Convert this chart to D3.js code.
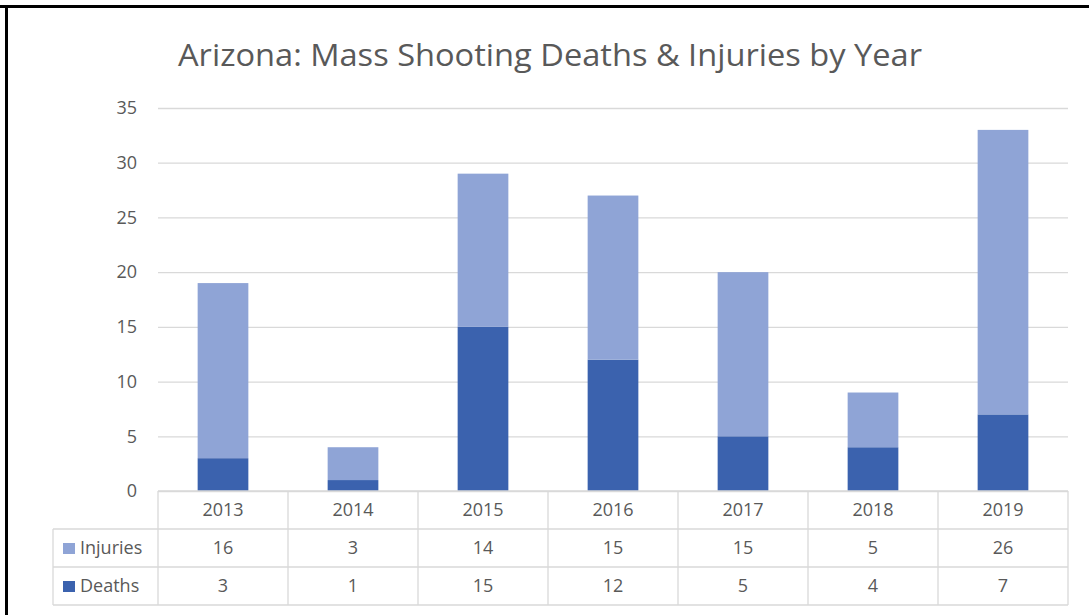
<!DOCTYPE html>
<html><head><meta charset="utf-8">
<script src="https://cdn.jsdelivr.net/npm/d3@7"></script>
<style>
html,body{margin:0;padding:0;background:#fff;}
svg{display:block;}
text{font-family:"Open Sans","Noto Sans",sans-serif;}
</style></head>
<body>
<svg id="c" width="1089" height="615"></svg>
<script>
const years = ["2013","2014","2015","2016","2017","2018","2019"];
const injuries = [16,3,14,15,15,5,26];
const deaths = [3,1,15,12,5,4,7];
const yTicks = [0,5,10,15,20,25,30,35];
const seriesNames = ["Injuries","Deaths"];
const title = "Arizona: Mass Shooting Deaths & Injuries by Year";

(function(){
const colInj = "#8FA4D6", colDea = "#3B62AE";
const textCol = "#595959", gridCol = "#D9D9D9";
const fs = 18;

const svg = d3.select("#c");
svg.append("rect").attr("x",0).attr("y",0).attr("width",1089).attr("height",615).attr("fill","#fff");
// black frame on top and left
svg.append("rect").attr("x",0).attr("y",5).attr("width",1089).attr("height",3).attr("fill","#000");
svg.append("rect").attr("x",5).attr("y",5).attr("width",3).attr("height",610).attr("fill","#000");

const pL = 158, pR = 1068, pT = 108, pB = 491;
const x = d3.scaleBand().domain(years).range([pL,pR]).paddingInner(0).paddingOuter(0);
const y = d3.scaleLinear().domain([0,35]).range([pB,pT]);

svg.append("text").attr("x",550).attr("y",66).attr("text-anchor","middle")
  .attr("font-size",31).attr("fill",textCol)
  .attr("textLength",744).attr("lengthAdjust","spacingAndGlyphs").text(title);

// grid
const yAxis = d3.axisLeft(y).tickValues(yTicks).tickSize(-(pR-pL)).tickPadding(21);
const ga = svg.append("g").attr("transform",`translate(${pL},0)`).call(yAxis);
ga.select(".domain").remove();
ga.selectAll(".tick line").attr("stroke",gridCol).attr("stroke-width",1.3);
ga.selectAll(".tick text").attr("font-size",fs).attr("fill",textCol).attr("font-family","'Open Sans','Noto Sans',sans-serif");

// stacked bars
const data = years.map((yr,i)=>({year:yr, Deaths:deaths[i], Injuries:injuries[i]}));
const stack = d3.stack().keys(["Deaths","Injuries"])(data);
const colors = {Deaths:colDea, Injuries:colInj};
const bw = x.bandwidth()*0.39;
stack.forEach(s=>{
  svg.append("g").selectAll("rect").data(s).join("rect")
    .attr("x",d=>x(d.data.year)+x.bandwidth()/2-bw/2)
    .attr("width",bw)
    .attr("y",d=>y(d[1]))
    .attr("height",d=>y(d[0])-y(d[1]))
    .attr("fill",colors[s.key]);
});

// data table
const rowH = 38;
const tLeft = 53;
const tb = svg.append("g");
const lineAttr = sel=>sel.attr("stroke",gridCol).attr("stroke-width",1.3);
lineAttr(tb.append("line").attr("x1",pL).attr("x2",pR).attr("y1",pB).attr("y2",pB));
[1,2,3].forEach(k=>{
  lineAttr(tb.append("line").attr("x1",tLeft).attr("x2",pR).attr("y1",pB+rowH*k).attr("y2",pB+rowH*k));
});
lineAttr(tb.append("line").attr("x1",tLeft).attr("x2",tLeft).attr("y1",pB+rowH).attr("y2",pB+rowH*3));
years.forEach(yr=>{
  lineAttr(tb.append("line").attr("x1",x(yr)).attr("x2",x(yr)).attr("y1",pB).attr("y2",pB+rowH*3));
});
lineAttr(tb.append("line").attr("x1",pR).attr("x2",pR).attr("y1",pB).attr("y2",pB+rowH*3));

tb.selectAll("text.yr").data(years).join("text").attr("class","yr")
  .attr("x",d=>x(d)+x.bandwidth()/2).attr("y",pB+rowH/2+6)
  .attr("text-anchor","middle").attr("font-size",fs).attr("fill",textCol).text(d=>d);

const rows = [{name:seriesNames[0], vals:injuries, col:colInj},{name:seriesNames[1], vals:deaths, col:colDea}];
rows.forEach((r,ri)=>{
  const cy = pB + rowH*(ri+1) + rowH/2;
  tb.append("rect").attr("x",tLeft+10).attr("y",cy-5).attr("width",12).attr("height",11).attr("fill",r.col);
  tb.append("text").attr("x",tLeft+27).attr("y",cy+6).attr("font-size",fs).attr("fill",textCol).text(r.name);
  tb.selectAll(null).data(r.vals).join("text")
    .attr("x",(d,i)=>x(years[i])+x.bandwidth()/2).attr("y",cy+6)
    .attr("text-anchor","middle").attr("font-size",fs).attr("fill",textCol).text(d=>d);
});
})();
</script>
</body></html>
